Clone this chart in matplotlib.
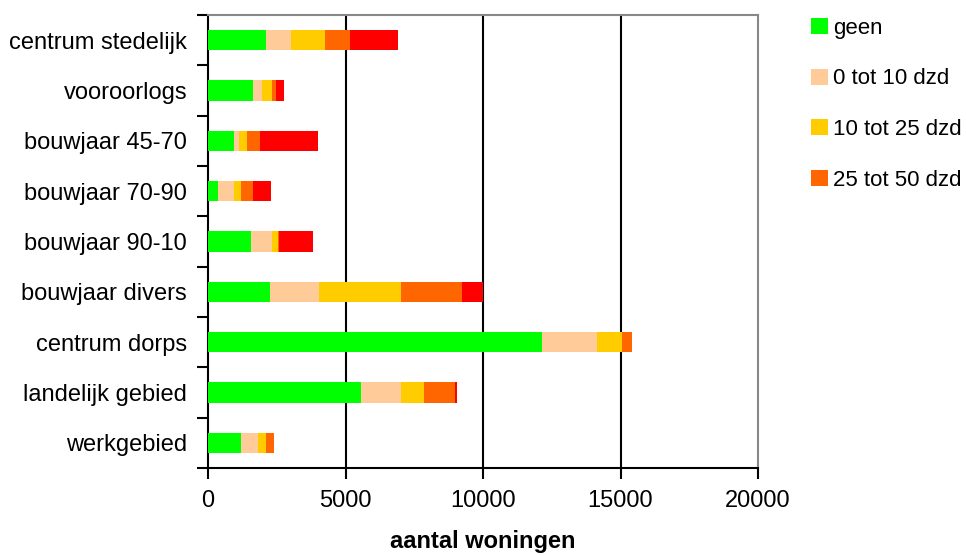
import matplotlib
matplotlib.use("Agg")
import matplotlib.pyplot as plt
from matplotlib.patches import Patch
import numpy as np

plt.rcParams['font.family'] = ['Liberation Sans', 'DejaVu Sans']

# categories, top to bottom
categories = ['centrum stedelijk', 'vooroorlogs', 'bouwjaar 45-70', 'bouwjaar 70-90',
              'bouwjaar 90-10', 'bouwjaar divers', 'centrum dorps', 'landelijk gebied',
              'werkgebied']

# aantal woningen per klasse
geen = [2110, 1640, 945, 365, 1565, 2255, 12145, 5565, 1200]
tot10 = [910, 330, 180, 580, 760, 1780, 2000, 1455, 620]
tot25 = [1235, 360, 290, 255, 220, 2980, 910, 835, 290]
tot50 = [910, 145, 475, 435, 50, 2220, 365, 1125, 290]
meer50 = [1745, 290, 2110, 655, 1235, 765, 0, 75, 0]

series = [geen, tot10, tot25, tot50, meer50]
labels = ['geen', '0 tot 10 dzd', '10 tot 25 dzd', '25 tot 50 dzd', '50 dzd en meer']
colors = ['#00FF00', '#FFCC99', '#FFCC00', '#FF6600', '#FF0000']

fig = plt.figure(figsize=(9.66, 5.56), dpi=100)
ax = fig.add_axes([208/966, 1 - 468/556, 550/966, 453/556])

y = np.arange(len(categories))
left = np.zeros(len(categories))
for vals, lab, col in zip(series, labels, colors):
    ax.barh(y, vals, left=left, height=0.4, color=col, label=lab, zorder=3)
    left += np.array(vals)

# axes
ax.set_xlim(0, 20000)
ax.set_ylim(len(categories) - 0.5, -0.5)
ax.set_xticks([0, 5000, 10000, 15000, 20000])
ax.set_yticks(y)
ax.set_yticklabels(categories)
ax.set_yticks(np.arange(-0.5, len(categories)), minor=True)
ax.tick_params(axis='y', which='major', length=0, pad=15, labelsize=17)
ax.tick_params(axis='y', which='minor', length=8, width=1.5, color='black')
ax.tick_params(axis='x', length=8, width=1.5, labelsize=17, pad=8)

for v in [5000, 10000, 15000]:
    ax.axvline(v, color='black', lw=1.5, zorder=1)

ax.spines['left'].set_color('black')
ax.spines['bottom'].set_color('black')
ax.spines['left'].set_linewidth(1.5)
ax.spines['bottom'].set_linewidth(1.5)
ax.spines['top'].set_color('#888888')
ax.spines['right'].set_color('#888888')
ax.spines['top'].set_linewidth(1.5)
ax.spines['right'].set_linewidth(1.5)

ax.set_xlabel('aantal woningen', fontsize=17, fontweight='bold', labelpad=13)

# legend (only the first four fit in the picture)
handles = [Patch(facecolor=c, edgecolor='none') for c in colors[:4]]
fig.legend(handles, labels[:4], loc='upper left', bbox_to_anchor=(802/966, 1 - 9/556),
           frameon=False, fontsize=16, handlelength=0.75, handleheight=0.75,
           handletextpad=0.25, labelspacing=1.33, borderaxespad=0)

fig.savefig('out.png', dpi=100)
